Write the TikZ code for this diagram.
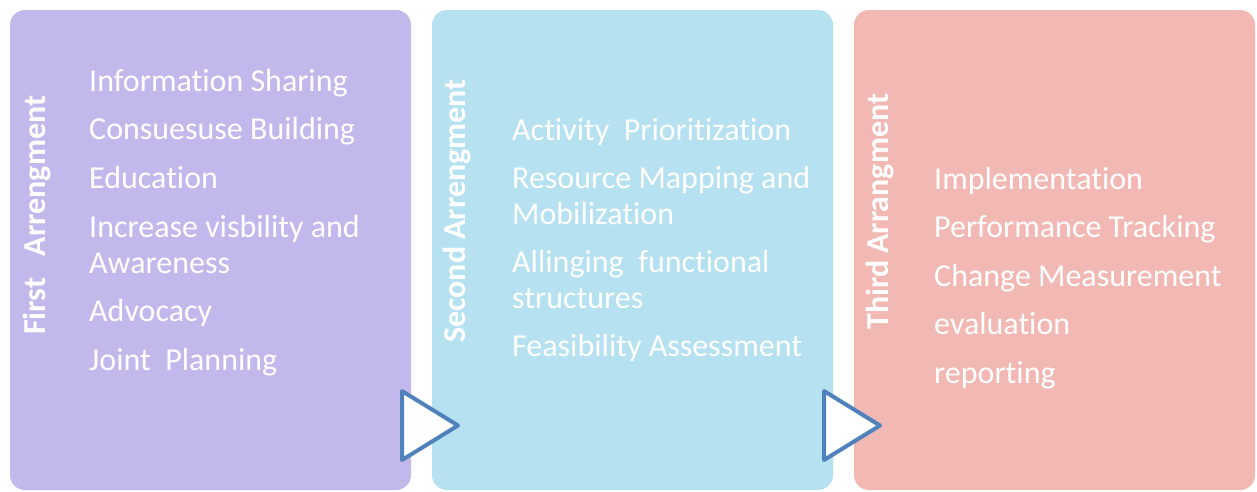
\documentclass[tikz,border=0pt]{standalone}
\usepackage{fontspec}
\setmainfont{Carlito}[Ligatures=NoCommon]
\definecolor{panelA}{HTML}{C3B8EC}
\definecolor{panelB}{HTML}{B6E1F0}
\definecolor{panelC}{HTML}{F2B8B3}
\definecolor{arrowblue}{HTML}{4F81BD}
\tikzset{
  panel/.style={rounded corners=15pt, draw=none},
  item/.style={anchor=base west, inner sep=0pt, text=white, align=left,
    font=\fontsize{32}{36}\selectfont},
  title/.style={anchor=base west, inner sep=0pt, text=white, rotate=90,
    font=\fontsize{32}{36}\selectfont\bfseries},
  chevron/.style={draw=arrowblue, fill=white, line width=4pt, line join=round}
}
\begin{document}
\begin{tikzpicture}[x=1pt,y=-1pt]
\path[use as bounding box, fill=white] (0,0) rectangle (1257,491);
% panels
\fill[panel, panelA] (10,10) rectangle (411,490);
\fill[panel, panelB] (432,10) rectangle (833,490);
\fill[panel, panelC] (854,10) rectangle (1255,490);
% titles
\node[title] (t1) at (45,335) {First\ \ \ Arrengment};
\node[title] (t2) at (465,343) {Second Arrengment};
\node[title] (t3) at (888,330) {Third Arrangment};
% first panel items (multi-line nodes anchored at last baseline)
\node[item] (a1) at (89,91) {Information Sharing};
\node[item] (a2) at (89,139) {Consuesuse Building};
\node[item] (a3) at (89,188) {Education};
\node[item] (a4) at (89,273) {Increase visbility and\\Awareness};
\node[item] (a5) at (89,321) {Advocacy};
\node[item] (a6) at (89,370) {Joint\ \ Planning};
% second panel items
\node[item] (b1) at (512,140) {Activity\ \ Prioritization};
\node[item] (b2) at (512,224) {Resource Mapping and\\Mobilization};
\node[item] (b3) at (512,308) {Allinging\ \ functional\\structures};
\node[item] (b4) at (512,356) {Feasibility Assessment};
% third panel items
\node[item] (c1) at (934,189) {Implementation};
\node[item] (c2) at (934,237) {Performance Tracking};
\node[item] (c3) at (934,286) {Change Measurement};
\node[item] (c4) at (934,334) {evaluation};
\node[item] (c5) at (934,383) {reporting};
% chevrons
\draw[chevron] (402,391) -- (402,460) -- (458,425.5) -- cycle;
\draw[chevron] (824,391) -- (824,460) -- (880,425.5) -- cycle;
\end{tikzpicture}
\end{document}
